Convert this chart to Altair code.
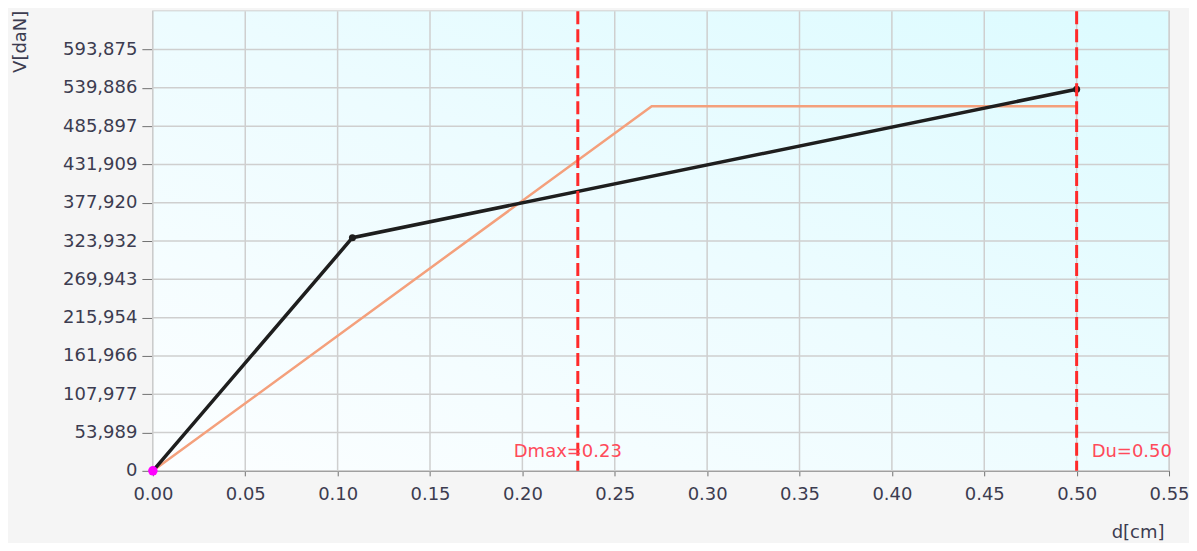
import altair as alt
import pandas as pd

# Data
black_d = [0.0, 0.108, 0.50]
black_v = [0, 328600, 538000]
orange_d = [0.0, 0.27, 0.50]
orange_v = [0, 513900, 513900]
y_ticks = [0, 53989, 107977, 161966, 215954, 269943, 323932, 377920, 431909,
           485897, 539886, 593875]
x_ticks = [0.0, 0.05, 0.10, 0.15, 0.20, 0.25, 0.30, 0.35, 0.40, 0.45, 0.50, 0.55]
dmax = 0.23
du = 0.50
y_max = 647863

W, H = 1017, 460
FONT = "DejaVu Sans"
GRID = "#cfcfcf"

black = pd.DataFrame({"d": black_d, "v": black_v})
orange = pd.DataFrame({"d": orange_d, "v": orange_v})
origin = pd.DataFrame({"d": [0.0], "v": [0]})
marks_df = pd.DataFrame({"d": [dmax, du], "label": [f"Dmax={dmax:.2f}", f"Du={du:.2f}"]})
xgrid = pd.DataFrame({"d": x_ticks})
ygrid = pd.DataFrame({"v": y_ticks})

xs = alt.Scale(domain=[0, 0.55], nice=False, zero=False)
ys = alt.Scale(domain=[0, y_max], nice=False)

bg = alt.Chart(pd.DataFrame({"a": [0]})).mark_rect(
    color=alt.LinearGradient(
        gradient="linear", x1=0, y1=1, x2=1, y2=0,
        stops=[alt.GradientStop(color="#fcfeff", offset=0),
               alt.GradientStop(color="#edfcff", offset=0.5),
               alt.GradientStop(color="#dcfbff", offset=1)]),
).encode(x=alt.value(0), x2=alt.value(W), y=alt.value(0), y2=alt.value(H))

base_x = alt.X("d:Q", scale=xs, axis=alt.Axis(
    values=x_ticks, format=".2f", title="d[cm]", titleAnchor="end",
    titleX=W - 5, titleY=62, titleAlign="right", titleBaseline="middle",
    titleFontWeight="normal", titleFontSize=18, titleFont=FONT, titleColor="#3c3c50",
    labelFontSize=18, labelFont=FONT, labelColor="#3c3c50", labelFlush=False,
    tickSize=5, labelPadding=10, tickColor="#707070",
    domainColor="#707070", domainWidth=1.5, grid=False))
base_y = alt.Y("v:Q", scale=ys, axis=alt.Axis(
    values=y_ticks, format=",d", title="V[daN]", titleAngle=-90,
    titleX=-141, titleY=-1, titleAlign="right", titleBaseline="top",
    titleFontWeight="normal", titleFontSize=18, titleFont=FONT, titleColor="#3c3c50",
    labelFontSize=18, labelFont=FONT, labelColor="#3c3c50", labelFlush=False,
    tickSize=11, labelPadding=5, tickColor="#707070",
    domainColor="#707070", domainWidth=1.5, grid=False))

xgrid_rules = alt.Chart(xgrid).mark_rule(color=GRID, strokeWidth=1.5).encode(
    x=alt.X("d:Q", scale=xs))
ygrid_rules = alt.Chart(ygrid).mark_rule(color=GRID, strokeWidth=1.5).encode(
    y=alt.Y("v:Q", scale=ys))

orange_line = alt.Chart(orange).mark_line(color="#f4a07c", strokeWidth=2.5).encode(
    x=base_x, y=base_y)
black_line = alt.Chart(black).mark_line(color="#1e1e1e", strokeWidth=3.5).encode(
    x="d:Q", y="v:Q")
black_pts = alt.Chart(black.iloc[1:]).mark_point(
    filled=True, color="#1e1e1e", size=50, opacity=1).encode(x="d:Q", y="v:Q")
origin_pt = alt.Chart(origin).mark_point(
    filled=True, color="#ff00ff", size=90, opacity=1).encode(x="d:Q", y="v:Q")

rules = alt.Chart(marks_df).mark_rule(
    color="#ff2a2a", strokeWidth=3, strokeDash=[13, 5]).encode(x="d:Q")

txt_dmax = alt.Chart(marks_df.iloc[[0]]).mark_text(
    color="#ff4a5a", fontSize=18, font=FONT, align="center", baseline="middle", dx=-10
).encode(x="d:Q", y=alt.value(H - 19), text="label:N")
txt_du = alt.Chart(marks_df.iloc[[1]]).mark_text(
    color="#ff4a5a", fontSize=18, font=FONT, align="left", baseline="middle", dx=15
).encode(x="d:Q", y=alt.value(H - 19), text="label:N")

chart = alt.layer(bg, xgrid_rules, ygrid_rules, orange_line, black_line, black_pts,
                  rules, txt_dmax, txt_du, origin_pt).properties(
    width=W, height=H,
    autosize=alt.AutoSizeParams(type="none"),
    padding={"left": 145, "top": 3, "right": 20, "bottom": 72},
    background="#f5f5f5",
).configure_view(stroke="#c4c4c4", strokeWidth=1.5)

chart.save("out.html", embed_options={"renderer": "svg", "actions": False})
